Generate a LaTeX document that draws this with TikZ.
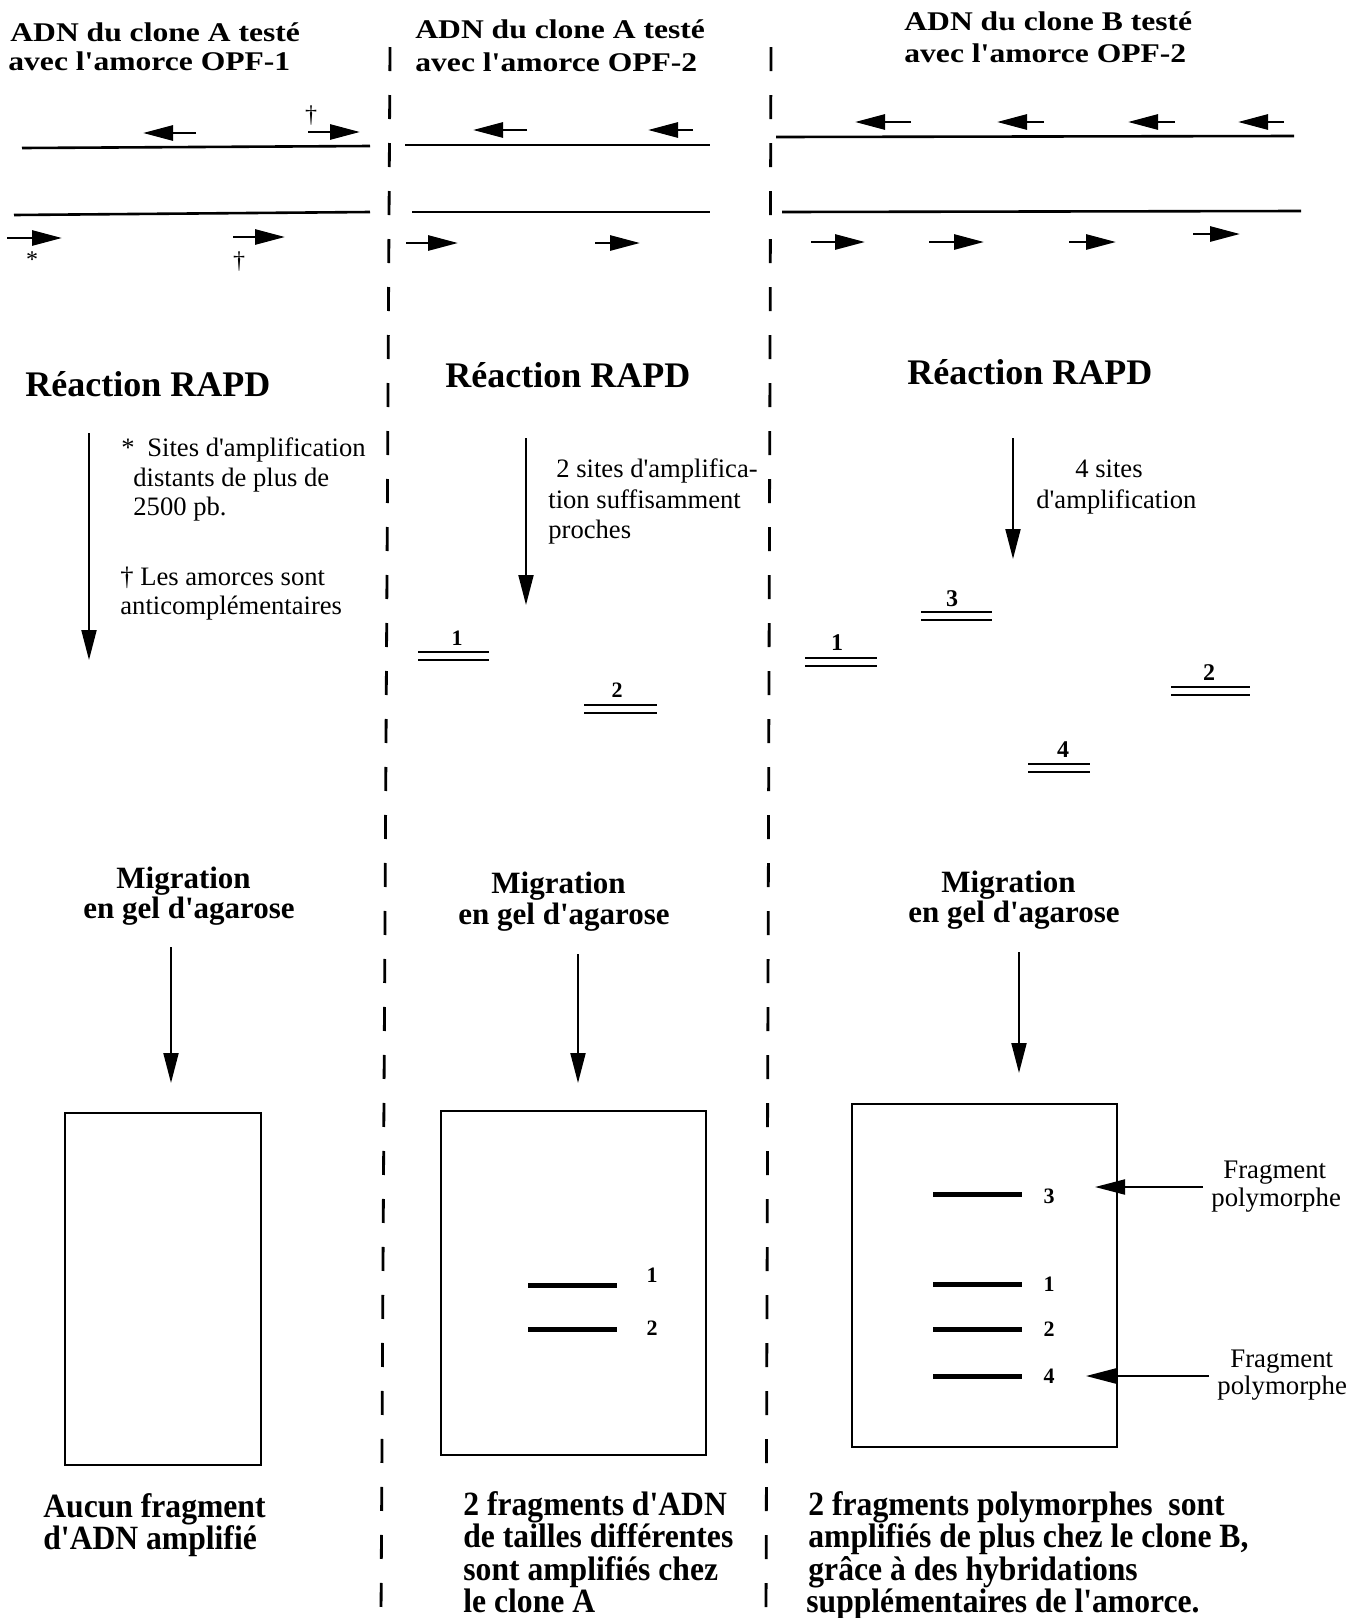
\documentclass[tikz,border=0pt]{standalone}
\usepackage{fontspec}
\setmainfont{Liberation Serif}
\newfontfamily\serif{Liberation Serif}
\newfontfamily\titlefont[FakeStretch=1.17]{Liberation Serif}
\newfontfamily\condfont[FakeStretch=0.93]{Liberation Serif}
\usetikzlibrary{arrows.meta}
\begin{document}
\begin{tikzpicture}[x=0.5pt,y=-0.5pt,
  txt/.style={anchor=base west, inner sep=0pt},
  ttl/.style={txt, font=\titlefont\bfseries\fontsize{13.5}{16}\selectfont},
  rapd/.style={txt, font=\serif\bfseries\fontsize{18}{21}\selectfont},
  migr/.style={txt, font=\serif\bfseries\fontsize{15.5}{18}\selectfont},
  note/.style={txt, font=\serif\fontsize{13.3}{16}\selectfont},
  res/.style={txt, font=\condfont\bfseries\fontsize{17}{19}\selectfont},
  frag/.style={txt, font=\serif\fontsize{13.4}{16}\selectfont},
  num/.style={inner sep=0pt, font=\serif\bfseries\fontsize{11}{13}\selectfont},
  bignum/.style={inner sep=0pt, font=\serif\bfseries\fontsize{12}{14}\selectfont},
  sym/.style={inner sep=0pt, font=\serif\fontsize{12}{14}\selectfont},
  strand/.style={line width=1.3pt},
  primer/.style={line width=1.4pt, -{Triangle[length=15pt,width=7.5pt]}},
  flow/.style={line width=1pt, -{Triangle[length=15pt,width=7.5pt]}},
  sep/.style={line width=1.4pt, dash pattern=on 12pt off 12pt},
  amp/.style={line width=1.4pt, double, double distance=2.6pt},
  gelband/.style={line width=2.5pt},
  gel/.style={draw, line width=1.4pt, inner sep=0pt}
]
\useasboundingbox (0,0) rectangle (1361,1618);
\fill[white] (0,0) rectangle (1361,1618);

% separators
\draw[sep] (390,47) -- (381,1618);
\draw[sep] (771,47) -- (766,1618);

% ---------------- titles
\node[ttl] (t1a) at (10,41) {ADN du clone A testé};
\node[ttl] (t1b) at (8,70) {avec l'amorce OPF-1};
\node[ttl] (t2a) at (415,38) {ADN du clone A testé};
\node[ttl] (t2b) at (415,71) {avec l'amorce OPF-2};
\node[ttl] (t3a) at (904,30) {ADN du clone B testé};
\node[ttl] (t3b) at (904,62) {avec l'amorce OPF-2};

% ---------------- DNA strands
\draw[strand] (22,148) -- (370,146);
\draw[strand] (14,215) -- (370,212);
\draw[strand] (405,145) -- (710,145);
\draw[strand] (412,212) -- (710,212);
\draw[strand] (776,137) -- (1294,136);
\draw[strand] (782,212) -- (1301,211);

% primers panel 1
\draw[primer] (196,133) -- (143,133);
\draw[primer] (308,132) -- (360,132);
\draw[primer] (7,238) -- (62,238);
\draw[primer] (233,237) -- (285,237);
\node[sym] (d1) at (311,116) {†};
\node[sym] (s1) at (32,260) {*};
\node[sym] (d2) at (239,262) {†};

% primers panel 2
\draw[primer] (527,130) -- (473,130);
\draw[primer] (693,130) -- (648,130);
\draw[primer] (406,243) -- (458,243);
\draw[primer] (595,243) -- (640,243);

% primers panel 3
\draw[primer] (911,122) -- (855,122);
\draw[primer] (1044,122) -- (997,122);
\draw[primer] (1175,122) -- (1128,122);
\draw[primer] (1284,122) -- (1238,122);
\draw[primer] (811,242) -- (865,242);
\draw[primer] (929,242) -- (984,242);
\draw[primer] (1069,242) -- (1116,242);
\draw[primer] (1193,234) -- (1240,234);

% ---------------- Reaction RAPD
\node[rapd] (r1) at (25,396) {Réaction RAPD};
\node[rapd] (r2) at (445,387) {Réaction RAPD};
\node[rapd] (r3) at (907,384) {Réaction RAPD};

\coordinate (ra1) at (89,433);  \coordinate (rb1) at (89,660);
\coordinate (ra2) at (526,438); \coordinate (rb2) at (526,605);
\coordinate (ra3) at (1013,438); \coordinate (rb3) at (1013,559);
\draw[flow] (ra1) -- (rb1);
\draw[flow] (ra2) -- (rb2);
\draw[flow] (ra3) -- (rb3);

% notes
\node[note] (n1a) at (121,456) {*};
\node[note] (n1b) at (147,456) {Sites d'amplification};
\node[note] (n1c) at (133,486) {distants de plus de};
\node[note] (n1d) at (133,515) {2500 pb.};
\node[note] (n1e) at (120,585) {† Les amorces sont};
\node[note] (n1f) at (120,614) {anticomplémentaires};

\node[note] (n2a) at (556,477) {2 sites d'amplifica-};
\node[note] (n2b) at (548,508) {tion suffisamment};
\node[note] (n2c) at (548,538) {proches};

\node[note] (n3a) at (1075,477) {4 sites};
\node[note] (n3b) at (1036,508) {d'amplification};

% amplified fragments
\draw[amp] (418,656) -- (489,656);
\node[num] (a21) at (457,638) {1};
\draw[amp] (584,709) -- (657,709);
\node[num] (a22) at (617,690) {2};

\draw[amp] (921,616) -- (992,616);
\node[bignum] (a33) at (952,599) {3};
\draw[amp] (805,662) -- (877,662);
\node[bignum] (a31) at (837,643) {1};
\draw[amp] (1171,691) -- (1250,691);
\node[bignum] (a32) at (1209,673) {2};
\draw[amp] (1028,768) -- (1090,768);
\node[bignum] (a34) at (1063,750) {4};

% ---------------- Migration
\node[migr] (m1a) at (116,888) {Migration};
\node[migr] (m1b) at (83,918) {en gel d'agarose};
\node[migr] (m2a) at (491,893) {Migration};
\node[migr] (m2b) at (458,924) {en gel d'agarose};
\node[migr] (m3a) at (941,892) {Migration};
\node[migr] (m3b) at (908,922) {en gel d'agarose};

\coordinate (ma1) at (171,947);  \coordinate (mb1) at (171,1083);
\coordinate (ma2) at (578,954);  \coordinate (mb2) at (578,1083);
\coordinate (ma3) at (1019,952); \coordinate (mb3) at (1019,1073);
\draw[flow] (ma1) -- (mb1);
\draw[flow] (ma2) -- (mb2);
\draw[flow] (ma3) -- (mb3);

% ---------------- gels
\node[gel, minimum width=98pt, minimum height=176pt] (g1) at (163,1289) {};
\node[gel, minimum width=132.5pt, minimum height=172pt] (g2) at (573.5,1283) {};
\node[gel, minimum width=132.5pt, minimum height=171.5pt] (g3) at (984.5,1275.5) {};

\draw[gelband] (528,1285) -- (617,1285);
\node[num] (b21) at (652,1275) {1};
\draw[gelband] (528,1329) -- (617,1329);
\node[num] (b22) at (652,1328) {2};

\draw[gelband] (933,1194) -- (1022,1194);
\node[num] (b33) at (1049,1196) {3};
\draw[gelband] (933,1284) -- (1022,1284);
\node[num] (b31) at (1049,1284) {1};
\draw[gelband] (933,1329) -- (1022,1329);
\node[num] (b32) at (1049,1329) {2};
\draw[gelband] (933,1376) -- (1022,1376);
\node[num] (b34) at (1049,1376) {4};

% polymorphic fragment labels
\node[frag] (f1a) at (1223,1178) {Fragment};
\node[frag] (f1b) at (1211,1206) {polymorphe};
\node[frag] (f2a) at (1230,1367) {Fragment};
\node[frag] (f2b) at (1217,1394) {polymorphe};
\coordinate (fa1) at (1203,1187); \coordinate (fb1) at (1095,1187);
\coordinate (fa2) at (1209,1376); \coordinate (fb2) at (1086,1376);
\draw[flow] (fa1) -- (fb1);
\draw[flow] (fa2) -- (fb2);

% ---------------- results
\node[res] (e1a) at (43,1517) {Aucun fragment};
\node[res] (e1b) at (43,1549) {d'ADN amplifié};

\node[res] (e2a) at (463,1515) {2 fragments d'ADN};
\node[res] (e2b) at (463,1547) {de tailles différentes};
\node[res] (e2c) at (463,1580) {sont amplifiés chez};
\node[res] (e2d) at (463,1612) {le clone A};

\node[res] (e3a) at (808,1515) {2 fragments polymorphes\ \ sont};
\node[res] (e3b) at (808,1547) {amplifiés de plus chez le clone B,};
\node[res] (e3c) at (808,1580) {grâce à des hybridations};
\node[res] (e3d) at (806,1612) {supplémentaires de l'amorce.};
\end{tikzpicture}
\end{document}
